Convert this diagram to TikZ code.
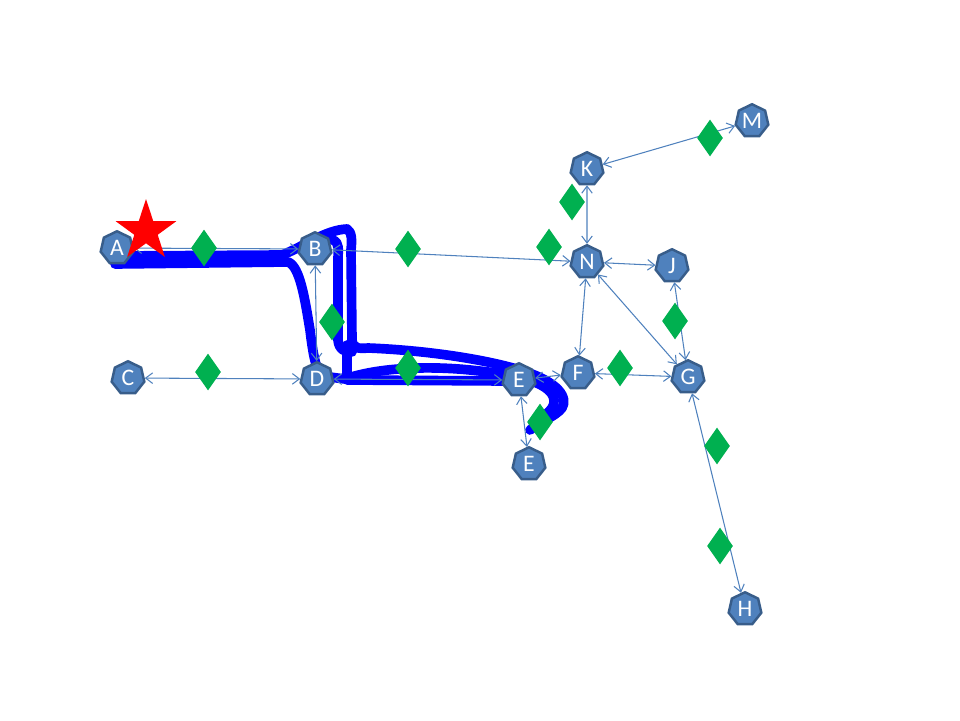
\documentclass[tikz,border=0pt]{standalone}
\usepackage{fontspec}
\setmainfont{Carlito}
\usetikzlibrary{shapes.geometric,arrows.meta}
\definecolor{nodeblue}{HTML}{4F81BD}
\definecolor{nodeedge}{HTML}{385D8A}
\definecolor{markgreen}{HTML}{00B050}

\begin{document}
\begin{tikzpicture}[x=0.02cm, y=-0.02cm,
  every node/.style = {inner sep=0pt},
  station/.style = {regular polygon, regular polygon sides=7, minimum size=0.67cm,
    fill=nodeblue, draw=nodeedge, line width=1.4pt, text=white, font=\fontsize{13.5}{15}\selectfont},
  marker/.style = {diamond, fill=markgreen, minimum width=0.52cm, minimum height=0.74cm},
  link/.style = {draw=nodeblue, line width=0.6pt,
    {Straight Barb[length=4pt,width=6pt]}-{Straight Barb[length=4pt,width=6pt]}},
  track/.style = {draw=blue, line width=5.5pt, line cap=round, line join=round}]
  \useasboundingbox (0,0) rectangle (960,720);

  % recorded track
  \draw[track] (115,256) -- (282,255) .. controls (305,246) and (325,230) .. (347,229)
    .. controls (352,232) and (352,240) .. (351,250) -- (352,340)
    .. controls (353,348) and (358,349) .. (368,348)
    .. controls (420,350) and (480,358) .. (520,370)
    .. controls (560,382) and (568,398) .. (562,408)
    .. controls (556,416) and (540,422) .. (530,430);
  \draw[track] (115,264) -- (288,262) .. controls (300,266) and (305,300) .. (310,330)
    .. controls (313,355) and (316,370) .. (322,376) -- (345,379)
    .. controls (380,367) and (430,366) .. (470,370)
    .. controls (510,374) and (545,380) .. (553,396)
    .. controls (558,408) and (545,416) .. (533,422);
  \draw[track] (333,240) .. controls (340,243) and (338,250) .. (338,260) -- (338,340)
    .. controls (339,350) and (345,352) .. (352,352);
  \draw[track] (347,345) -- (347,380) -- (505,381);

  % stations
  \node[station] (A) at (117,248) {A};
  \node[station] (B) at (315,249) {B};
  \node[station] (C) at (128,378) {C};
  \node[station] (D) at (317,379) {D};
  \node[station] (E) at (519,380) {E};
  \node[station] (E2) at (529,464) {E};
  \node[station] (F) at (578,373) {F};
  \node[station] (G) at (688,377) {G};
  \node[station] (H) at (745,609) {H};
  \node[station] (J) at (672,266) {J};
  \node[station] (K) at (587,169) {K};
  \node[station] (M) at (752,121) {M};
  \node[station] (N) at (587,262) {N};

  % links
  \draw[link] (A) -- (B);
  \draw[link] (C) -- (D);
  \draw[link] (B) -- (D);
  \draw[link] (B) -- (N);
  \draw[link] (D) -- (E);
  \draw[link] (E) -- (E2);
  \draw[link] (E) -- (F);
  \draw[link] (F) -- (G);
  \draw[link] (N) -- (F);
  \draw[link] (N) -- (G);
  \draw[link] (N) -- (J);
  \draw[link] (J) -- (G);
  \draw[link] (K) -- (N);
  \draw[link] (K) -- (M);
  \draw[link] (G) -- (H);

  % markers
  \node[marker] (m1) at (204,248) {};
  \node[marker] (m2) at (208,372) {};
  \node[marker] (m3) at (332,322) {};
  \node[marker] (m4) at (408,249) {};
  \node[marker] (m5) at (408,368) {};
  \node[marker] (m6) at (549,247) {};
  \node[marker] (m7) at (540,422) {};
  \node[marker] (m8) at (620,368) {};
  \node[marker] (m9) at (675,321) {};
  \node[marker] (m10) at (572,202) {};
  \node[marker] (m11) at (710,138) {};
  \node[marker] (m12) at (717,446) {};
  \node[marker] (m13) at (720,546) {};

  % start
  \node[star, star points=5, star point ratio=2.6, fill=red, minimum size=1.28cm] (start) at (146,231) {};
\end{tikzpicture}
\end{document}
